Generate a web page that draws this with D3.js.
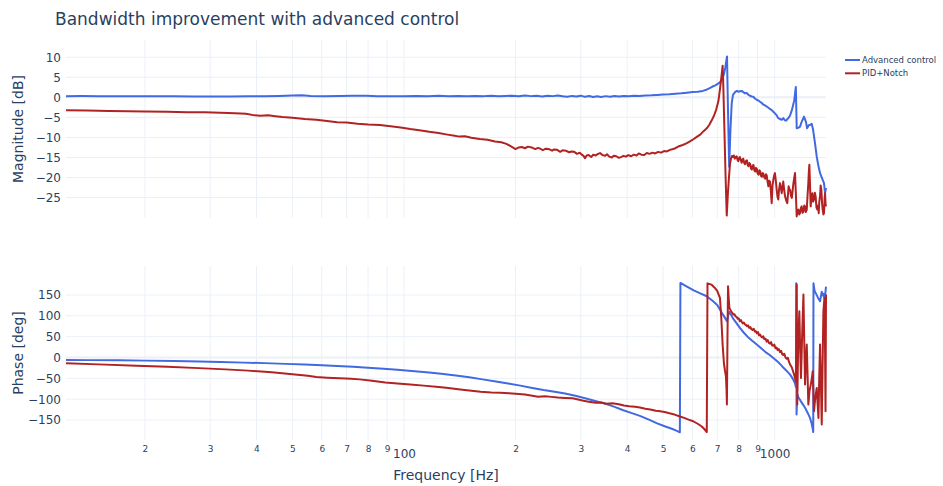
<!DOCTYPE html>
<html>
<head>
<meta charset="utf-8">
<script src="https://cdn.jsdelivr.net/npm/d3@7"></script>
<style>
  body { margin: 0; background: #fff; }
  svg text { font-family: "DejaVu Sans", Verdana, sans-serif; fill: #2a3f5f; }
</style>
</head>
<body>
<svg id="chart" width="943" height="486"></svg>
<script>
// ---- axis ticks ----
const freqMajorTicks = [100, 1000];
const freqMinorTicks = [20, 30, 40, 50, 60, 70, 80, 90, 200, 300, 400, 500, 600, 700, 800, 900];
const magTicks = [-25, -20, -15, -10, -5, 0, 5, 10];
const phaseTicks = [-150, -100, -50, 0, 50, 100, 150];
const seriesNames = ["Advanced control", "PID+Notch"];
const seriesColors = ["#4169e1", "#b22222"];

// ---- measured responses: [frequency Hz, value] ----
const advMag = [[12.25,0.3],[13.5,0.32],[15,0.3],[17,0.28],[19,0.3],[21,0.26],[24,0.25],[27,0.22],[30,0.2],[34,0.22],[38,0.26],[42,0.3],[46,0.34],[50,0.45],[53,0.5],[56,0.35],[61,0.3],[67,0.32],[73,0.38],[79,0.42],[85,0.3],[92,0.28],[100,0.3],[108,0.36],[116,0.3],[124,0.38],[132,0.26],[140,0.34],[148,0.28],[156,0.36],[164,0.3],[172,0.4],[180,0.25],[188,0.33],[196,0.42],[204,0.28],[212,0.45],[220,0.3],[228,0.38],[236,0.22],[244,0.4],[252,0.3],[260,0.48],[268,0.25],[276,0.15],[284,0.36],[292,0.2],[300,0.42],[308,0.12],[316,0.32],[324,0.08],[332,0.28],[340,0.1],[350,0.3],[360,0.14],[370,0.34],[380,0.18],[392,0.36],[404,0.26],[418,0.42],[432,0.32],[448,0.48],[465,0.52],[482,0.6],[500,0.7],[520,0.78],[540,0.9],[560,1.0],[580,1.15],[600,1.3],[620,1.4],[640,1.6],[655,1.9],[668,2.3],[680,2.7],[692,3.0],[704,3.4],[714,3.9],[722,4.6],[730,5.8],[736,7.4],[741,9.2],[744,10.2],[748,-2],[754,-17.3],[760,-8],[766,-1.5],[772,0.6],[782,1.3],[791,1.6],[798,1.4],[806,1.5],[815,1.6],[823,1.3],[832,1.0],[841,1.1],[850,0.6],[858,0.4],[867,0.2],[876,0.15],[885,-0.3],[895,-0.6],[904,-0.8],[913,-1.1],[923,-1.4],[932,-1.8],[942,-2.0],[952,-2.3],[962,-2.6],[972,-2.9],[982,-3.2],[992,-3.6],[1002,-4.0],[1013,-4.5],[1023,-5.2],[1034,-5.4],[1045,-5.6],[1055,-5.2],[1065,-5.7],[1075,-5.8],[1082,-5.4],[1089,-5.2],[1100,-4.6],[1113,-3.2],[1124,-1.6],[1130,-0.7],[1136,1.2],[1141,2.6],[1147,-7.7],[1159,-7.6],[1171,-7.3],[1183,-6.1],[1200,-4.8],[1215,-6.1],[1223,-7.7],[1238,-6.9],[1246,-6.9],[1259,-6.6],[1270,-8.1],[1285,-11.4],[1299,-14.8],[1312,-17],[1326,-18.9],[1348,-20.6],[1359,-21.4],[1368,-23.9],[1376,-22.6]];

const pidMag = [[12.25,-3.2],[14,-3.3],[16,-3.4],[18,-3.5],[20,-3.55],[23,-3.6],[26,-3.7],[29,-3.75],[32,-3.85],[35,-3.95],[37.5,-4.1],[39.5,-4.5],[41,-4.6],[43,-4.5],[45,-4.7],[47,-4.9],[50,-5.1],[54,-5.4],[58,-5.6],[62,-5.9],[66,-6.2],[70,-6.3],[75,-6.6],[80,-6.8],[86,-6.9],[92,-7.2],[98,-7.5],[104,-7.9],[110,-8.2],[117,-8.6],[124,-8.9],[131,-9.3],[137,-9.6],[141,-9.8],[146,-9.7],[152,-10.1],[160,-10.4],[168,-10.6],[176,-11.0],[183,-11.2],[189,-11.6],[195,-12.3],[200,-12.9],[204,-12.5],[208,-12.4],[212,-12.7],[216,-12.3],[221,-12.5],[226,-12.9],[230,-12.6],[233,-12.8],[237,-13.2],[241,-12.8],[246,-12.9],[251,-13.3],[254,-13.0],[259,-13.1],[264,-13.6],[268,-13.2],[273,-13.3],[279,-13.7],[283,-13.5],[288,-13.6],[293,-14.1],[298,-13.8],[302,-14.3],[305,-14.6],[308,-15.2],[311,-14.5],[315,-14.4],[320,-14.9],[324,-14.3],[329,-14.5],[334,-14.1],[338,-13.9],[343,-14.4],[349,-14.6],[353,-14.2],[358,-14.8],[364,-15.0],[368,-14.6],[374,-14.7],[380,-15.1],[385,-14.9],[391,-14.6],[397,-14.8],[403,-14.4],[410,-14.7],[417,-14.3],[424,-14.5],[430,-14.0],[437,-14.3],[445,-14.4],[452,-13.9],[460,-14.1],[468,-13.8],[476,-14.0],[485,-13.6],[494,-13.8],[503,-13.4],[512,-13.5],[522,-13.1],[532,-12.9],[540,-12.7],[552,-12.2],[565,-11.9],[578,-11.5],[591,-11.0],[605,-10.4],[618,-9.8],[630,-9.3],[642,-8.5],[655,-7.8],[666,-6.9],[676,-5.8],[686,-4.6],[696,-3.0],[705,-1.0],[712,2.0],[718,4.8],[724,7.9],[727,3],[732,-8],[737,-19],[742.7,-29.5],[748,-24],[753,-20],[758,-16.5],[763,-15.2],[768,-14.6],[772,-14.9],[776,-14.5],[781,-15.3],[785,-14.9],[790,-14.7],[794,-15.6],[798,-15.9],[802,-15.1],[806,-14.9],[811,-15.8],[815,-16.3],[819,-15.5],[823,-15.3],[828,-16.4],[832,-16.7],[837,-15.9],[842,-15.7],[846,-16.9],[850,-17.2],[855,-16.4],[859,-16.6],[864,-17.8],[868,-18.0],[873,-17.0],[877,-16.9],[882,-18.3],[887,-18.5],[891,-17.6],[896,-17.9],[900,-19.0],[905,-19.3],[910,-18.2],[914,-18.4],[919,-19.6],[924,-19.8],[928,-18.9],[933,-19.1],[938,-20.0],[943,-20.3],[948,-19.2],[952,-19.5],[957,-21.0],[962,-22.2],[967,-20.8],[972,-21.1],[977,-23.5],[982,-26.4],[987,-22.0],[992,-20.6],[997,-19.5],[1002,-18.9],[1008,-21.0],[1013,-23.1],[1018,-24.8],[1023,-25.5],[1028,-23.0],[1034,-21.4],[1040,-22.6],[1045,-23.9],[1050,-22.4],[1055,-21.0],[1061,-23.0],[1067,-24.7],[1075,-25.8],[1082,-26.4],[1087,-24.0],[1091,-22.2],[1096,-22.9],[1101,-23.1],[1107,-24.6],[1113,-25.1],[1119,-23.0],[1124,-21.4],[1130,-20.0],[1135,-18.9],[1141,-24.0],[1147,-29.7],[1153,-28.4],[1159,-28.0],[1165,-29.2],[1171,-28.9],[1177,-27.6],[1183,-27.2],[1190,-28.8],[1196,-28.5],[1202,-27.0],[1208,-27.2],[1214,-28.6],[1221,-28.0],[1227,-24.5],[1233,-21.4],[1237,-18.5],[1241,-16.8],[1246,-22.0],[1251,-27.2],[1257,-25.0],[1264,-23.9],[1270,-26.0],[1277,-25.5],[1284,-23.8],[1290,-24.7],[1297,-27.5],[1304,-28.0],[1310,-27.0],[1315,-28.9],[1320,-26.0],[1326,-24.7],[1331,-22.0],[1337,-23.1],[1343,-26.5],[1348,-28.0],[1354,-29.2],[1359,-28.9],[1364,-25.5],[1368,-23.9],[1372,-26.5],[1376,-27.2]];

const advPhase = [[12.25,-6],[14,-6.3],[17,-6.8],[20,-7.5],[24,-8.5],[28,-9.8],[32,-11],[37,-12.3],[42,-13.5],[48,-15.3],[54,-17],[60,-18.6],[66,-20.2],[73,-22.3],[80,-24.5],[88,-27],[96,-29.5],[105,-32.5],[115,-35.5],[126,-39],[138,-43],[150,-47.5],[163,-52.5],[177,-57.5],[191,-62.5],[206,-67.5],[222,-73],[238,-78],[255,-82],[272,-86.5],[290,-92],[310,-98.5],[330,-105],[350,-111],[370,-118.5],[389,-126],[410,-133],[433,-140],[458,-149],[482,-158],[505,-165],[528,-171],[545,-176],[555,-179.5],[557,179],[580,170],[605,161],[630,154],[656,147],[680,136],[700,126],[712,115],[724,104],[735,95],[740,90],[744,87],[749,100],[754,110],[760,105],[772,94],[790,82],[806,71],[825,60],[845,50],[870,40],[895,31],[920,22],[945,13],[970,6],[992,-1],[1020,-10],[1050,-22],[1075,-31],[1101,-41],[1118,-50],[1130,-58],[1138,-66],[1142,-72],[1144,178],[1146,-137],[1150,-88],[1160,-96],[1175,-104],[1193,-113],[1210,-122],[1228,-133],[1246,-145],[1258,-158],[1268,-172],[1271,-179],[1273,178],[1282,160],[1295,152],[1310,143],[1320,138],[1326,135],[1334,148],[1340,158],[1348,149],[1355,153],[1362,142],[1368,148],[1376,170]];

const pidPhase = [[12.25,-14],[15,-16.5],[19,-19.6],[23,-22],[28,-25.5],[33,-28.5],[38,-31.5],[44,-35.5],[50,-40],[55,-44],[58,-47],[62,-48.5],[67,-50],[72,-51],[76,-52.5],[82,-56],[89,-60],[96,-62.5],[104,-65],[113,-67.5],[122,-70],[130,-72.5],[140,-76],[150,-79],[161,-82],[172,-84],[182,-84.5],[192,-86],[204,-87.6],[212,-89],[220,-91],[230,-94],[240,-93],[250,-94.5],[260,-96],[272,-97],[285,-98],[295,-101],[305,-104],[315,-106],[329,-108.5],[340,-108],[352,-111],[365,-110],[380,-112],[392,-115],[405,-117],[420,-118],[433,-120],[448,-123],[462,-125],[478,-128],[491,-129],[505,-131],[520,-134],[537,-137],[553,-141],[570,-145],[586,-149],[603,-153],[620,-159],[635,-165],[645,-171],[652,-176],[656,-179],[659,178],[675,175],[690,167],[700,160],[712,143],[718,95],[724,31],[730,-15],[735,-33],[739,-45],[742,-80],[743.5,-113],[746,40],[748.7,171],[752,140],[755,119],[764,110],[774,103],[779,104],[784,99],[790,97],[795,93],[800,94],[806,87],[811,90],[815,86],[820,82],[826,84],[832,79],[837,78],[843,75],[848,77],[854,71],[860,73],[866,68],[872,66],[878,69],[885,62],[890,63],[896,58],[902,61],[908,53],[914,55],[920,50],[926,48],[932,51],[938,44],[945,45],[952,38],[958,42],[965,35],[972,33],[978,37],[985,29],[992,28],[998,31],[1005,22],[1012,24],[1019,18],[1026,20],[1034,13],[1041,16],[1048,8],[1055,6],[1062,9],[1070,0],[1078,-3],[1086,-1],[1093,-10],[1101,-17],[1113,-24],[1124,-36],[1135,-49],[1141,-58],[1147,175],[1151,-113],[1158,40],[1166,111],[1172,20],[1178,-49],[1187,60],[1196,151],[1202,40],[1208,-65],[1214,-10],[1221,31],[1227,-40],[1233,-113],[1242,-80],[1252,-65],[1260,-50],[1267,-33],[1272,-80],[1277,-129],[1288,-95],[1299,-73],[1306,-110],[1313,-145],[1320,-40],[1326,31],[1333,-60],[1340,-161],[1347,-20],[1354,111],[1363,143],[1368,20],[1372,-129],[1376,151]];

// ---- layout ----
const svg = d3.select("#chart");
const plotL = 66, plotR = 826;
const magPanel = { top: 40, bottom: 218 };
const phasePanel = { top: 266, bottom: 440 };
const gridColor = "#ebf0f8";

const x = d3.scaleLog().domain([12.25, 1376]).range([plotL, plotR]);
const yMag = d3.scaleLinear().domain([-30.1, 14.3]).range([magPanel.bottom, magPanel.top]);
const yPhase = d3.scaleLinear().domain([-198, 219.6]).range([phasePanel.bottom, phasePanel.top]);

const allFreqTicks = freqMinorTicks.concat(freqMajorTicks);

function drawGrid(panel, yScale, yTicks) {
  const g = svg.append("g");
  g.selectAll("line.vx").data(allFreqTicks).join("line")
    .attr("x1", d => x(d)).attr("x2", d => x(d))
    .attr("y1", panel.top).attr("y2", panel.bottom)
    .attr("stroke", gridColor).attr("stroke-width", 1);
  g.selectAll("line.hy").data(yTicks).join("line")
    .attr("x1", plotL).attr("x2", plotR)
    .attr("y1", d => yScale(d)).attr("y2", d => yScale(d))
    .attr("stroke", gridColor).attr("stroke-width", d => d === 0 ? 2 : 1);

  const axis = d3.axisLeft(yScale).tickValues(yTicks).tickSize(0).tickPadding(4);
  const ag = svg.append("g").attr("transform", `translate(${plotL - 1},0)`).call(axis);
  ag.select(".domain").remove();
  ag.selectAll("text").style("font-size", "12px").attr("fill", "#2a3f5f");
}

drawGrid(magPanel, yMag, magTicks);
drawGrid(phasePanel, yPhase, phaseTicks);

// frequency axis: small digits between decades, full labels on decades
const minorAxis = d3.axisBottom(x).tickValues(freqMinorTicks).tickSize(0).tickPadding(6)
  .tickFormat(d => String(Math.round(d / Math.pow(10, Math.floor(Math.log10(d))))));
const mg = svg.append("g").attr("transform", `translate(0,${phasePanel.bottom})`).call(minorAxis);
mg.select(".domain").remove();
mg.selectAll("text").style("font-size", "9px").attr("fill", "#2a3f5f");

const majorAxis = d3.axisBottom(x).tickValues(freqMajorTicks).tickSize(0).tickPadding(9)
  .tickFormat(d3.format("d"));
const jg = svg.append("g").attr("transform", `translate(0,${phasePanel.bottom})`).call(majorAxis);
jg.select(".domain").remove();
jg.selectAll("text").style("font-size", "12px").attr("fill", "#2a3f5f");

// traces
const magLine = d3.line().x(d => x(d[0])).y(d => yMag(d[1]));
const phaseLine = d3.line().x(d => x(d[0])).y(d => yPhase(d[1]));

const traces = [
  { data: advMag, line: magLine, color: seriesColors[0] },
  { data: pidMag, line: magLine, color: seriesColors[1] },
  { data: advPhase, line: phaseLine, color: seriesColors[0] },
  { data: pidPhase, line: phaseLine, color: seriesColors[1] }
];
svg.append("g").selectAll("path").data(traces).join("path")
  .attr("d", t => t.line(t.data))
  .attr("fill", "none")
  .attr("stroke", t => t.color)
  .attr("stroke-width", 2)
  .attr("stroke-linejoin", "round");

// titles
svg.append("text").attr("x", 55).attr("y", 24.5)
  .style("font-size", "17px").text("Bandwidth improvement with advanced control");

svg.append("text")
  .attr("transform", `translate(17.5,${(magPanel.top + magPanel.bottom) / 2}) rotate(-90)`)
  .attr("text-anchor", "middle").attr("dominant-baseline", "central")
  .style("font-size", "14px").text("Magnitude [dB]");

svg.append("text")
  .attr("transform", `translate(17.5,${(phasePanel.top + phasePanel.bottom) / 2}) rotate(-90)`)
  .attr("text-anchor", "middle").attr("dominant-baseline", "central")
  .style("font-size", "14px").text("Phase [deg]");

svg.append("text").attr("x", (plotL + plotR) / 2).attr("y", 480)
  .attr("text-anchor", "middle")
  .style("font-size", "14px").text("Frequency [Hz]");

// legend
const legend = svg.append("g").selectAll("g").data(seriesNames).join("g")
  .attr("transform", (d, i) => `translate(845,${60 + i * 13.3})`);
legend.append("line").attr("x1", 0).attr("x2", 15).attr("y1", 0).attr("y2", 0)
  .attr("stroke", (d, i) => seriesColors[i]).attr("stroke-width", 2);
legend.append("text").attr("x", 17).attr("y", 0).attr("dominant-baseline", "central")
  .style("font-size", "8.5px").text(d => d);
</script>
</body>
</html>
